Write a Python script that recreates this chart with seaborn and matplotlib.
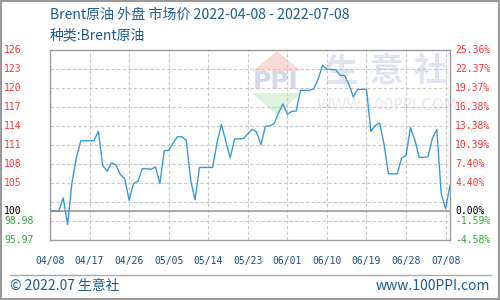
import numpy as np
import pandas as pd
import matplotlib
matplotlib.use("Agg")
import matplotlib.pyplot as plt
import matplotlib.transforms as mtransforms
from matplotlib.patches import Rectangle, Polygon
from matplotlib.lines import Line2D
import seaborn as sns

# ---------------- data ----------------
start_date = "2022-04-08"
pct_change = [
    0.0, 0.0, 0.0, 2.1, -2.1, 4.5, 8.4, 11.1, 11.1, 11.1,
    11.1, 12.6, 7.2, 6.3, 7.66, 7.3, 5.8, 5.1, 1.72, 4.35,
    4.7, 6.7, 6.7, 6.6, 7.0, 4.35, 9.55, 9.6, 10.7, 11.75,
    11.75, 11.2, 4.9, 1.8, 6.9, 6.9, 6.9, 6.9, 10.8, 13.65,
    11.0, 8.45, 11.4, 11.4, 11.45, 12.2, 12.9, 12.5, 10.5, 13.4,
    13.45, 13.8, 15.5, 16.9, 15.3, 15.74, 15.8, 19.05, 19.05, 19.05,
    19.3, 20.8, 23.0, 22.36, 22.36, 22.3, 21.4, 21.4, 20.0, 18.0,
    19.2, 19.2, 19.2, 12.6, 13.5, 13.9, 10.5, 5.9, 5.9, 5.9,
    8.4, 8.8, 13.2, 11.2, 8.5, 8.5, 8.6, 11.5, 12.9, 2.8,
    0.4, 4.1,
]
x_tick_labels = ["04/08", "04/17", "04/26", "05/05", "05/14", "05/23",
                 "06/01", "06/10", "06/19", "06/28", "07/08"]
grid_pct = [25.36, 22.37, 19.37, 16.38, 13.38, 10.39, 7.40, 4.40, 1.41, -1.59, -4.58]
left_labels = ["126", "123", "120", "117", "114", "111", "108", "105", "", "98.98", "95.97"]
right_labels = ["25.36%", "22.37%", "19.37%", "16.38%", "13.38%", "10.39%",
                "7.40%", "4.40%", "", "-1.59%", "-4.58%"]
base_label_left = "100"
base_label_right = "0.00%"

title = "Brent原油 外盘 市场价 2022-04-08 - 2022-07-08"
subtitle = "种类:Brent原油"
footer_left = "© 2022.07 生意社"
footer_right = "www.100PPI.com"

dates = pd.date_range(start_date, periods=len(pct_change), freq="D")
df = pd.DataFrame({"date": dates, "pct": pct_change})

# ---------------- style ----------------
sns.set_theme(style="white")
plt.rcParams["font.family"] = ["Noto Sans CJK SC", "DejaVu Sans"]

TITLE_C = "#1d5d8e"
TICK_C = "#1a4f7a"
RED = "#ff3333"
GREEN = "#33aa33"
GRID_C = "#c8c8c8"
FRAME_C = "#9a9a9a"
LINE_C = "#3a9ad9"
MONO = ["DejaVu Sans Mono"]

fig = plt.figure(figsize=(5, 3), dpi=100)
fig.patch.set_facecolor("white")
ax = fig.add_axes([0.1, 0.199, 0.8, 0.6333])
ax.set_facecolor("none")

# watermark (decoration, behind the axes)
fig.patches.append(Polygon([[253/500, 1-71/300], [301/500, 1-71/300], [277/500, 1-51/300]],
                           closed=True, transform=fig.transFigure, facecolor="#fadad6",
                           edgecolor="none", zorder=-3))
fig.patches.append(Polygon([[252/500, 1-93/300], [301/500, 1-93/300], [277/500, 1-115/300]],
                           closed=True, transform=fig.transFigure, facecolor="#dcf2dc",
                           edgecolor="none", zorder=-3))
fig.text(276/500, 1-82/300, "PPI", ha="center", va="center", fontsize=18,
         fontweight="bold", color="#d3daea", family=["DejaVu Sans"], zorder=-2)
for cx, ch in zip([342, 386, 430], "生意社"):
    fig.text(cx/500, 1-72/300, ch, ha="center", va="center", fontsize=24,
             fontweight="bold", color="#e0e4ee", zorder=-2)
fig.text(387/500, 1-106/300, "WWW.100PPI.COM", ha="center", va="center", fontsize=11,
         color="#e8eaee", family=["DejaVu Sans"], zorder=-2)

# grid
for v in grid_pct[1:-1]:
    ax.axhline(v, color=GRID_C, lw=0.8, ls=(0, (3, 2)), zorder=1)
tick_dates = pd.date_range(start_date, periods=len(x_tick_labels), freq="9D")
for d in tick_dates[1:]:
    ax.axvline(d, color=GRID_C, lw=0.8, ls=(0, (3, 2)), zorder=1)
ax.axhline(0, color=FRAME_C, lw=1.2, zorder=2)

sns.lineplot(data=df, x="date", y="pct", ax=ax, color=LINE_C, linewidth=1.0, zorder=3)

ax.set_xlim(dates[0], dates[-1])
ax.set_ylim(grid_pct[-1], grid_pct[0])
ax.set_xlabel("")
ax.set_ylabel("")
ax.set_yticks([])
ax.set_xticks(tick_dates)
ax.set_xticklabels(x_tick_labels, family=MONO, fontsize=7, color=TICK_C)
ax.tick_params(axis="x", length=0, pad=11)
for s in ax.spines.values():
    s.set_color(FRAME_C)
    s.set_linewidth(1.0)
    s.set_visible(True)

# y labels on both sides
trL = mtransforms.blended_transform_factory(fig.transFigure, ax.transData)
for v, lab in zip(grid_pct, left_labels):
    if lab:
        fig.text(4/500, v, lab, transform=trL, ha="left", va="center", fontsize=7,
                 family=MONO, color=RED if v > 0 else GREEN)
for v, lab in zip(grid_pct, right_labels):
    if lab:
        fig.text(455/500, v, lab, transform=trL, ha="left", va="center", fontsize=7,
                 family=MONO, color=RED if v > 0 else GREEN)
fig.text(4/500, 0, base_label_left, transform=trL, ha="left", va="center", fontsize=7,
         family=MONO, color="black")
fig.text(455/500, 0, base_label_right, transform=trL, ha="left", va="center", fontsize=7,
         family=MONO, color="black")

# titles
fig.text(50/500, 1-15/300, title, ha="left", va="center", fontsize=10.1, color=TITLE_C)
fig.text(50/500, 1-35/300, subtitle, ha="left", va="center", fontsize=10, color=TITLE_C)

# footer
fig.add_artist(Line2D([10/500, 491/500], [1-275/300, 1-275/300], transform=fig.transFigure,
                      color="#aaaaaa", lw=1))
fig.text(10/500, 1-286/300, footer_left, ha="left", va="center", fontsize=10, color=TITLE_C)
fig.text(490/500, 1-286/300, footer_right, ha="right", va="center", fontsize=10, color=TITLE_C)

# outer border
fig.patches.append(Rectangle((0.001, 0.002), 0.997, 0.995, transform=fig.transFigure,
                             fill=False, edgecolor="#999999", lw=1.5))

fig.savefig("out.png", dpi=100)
